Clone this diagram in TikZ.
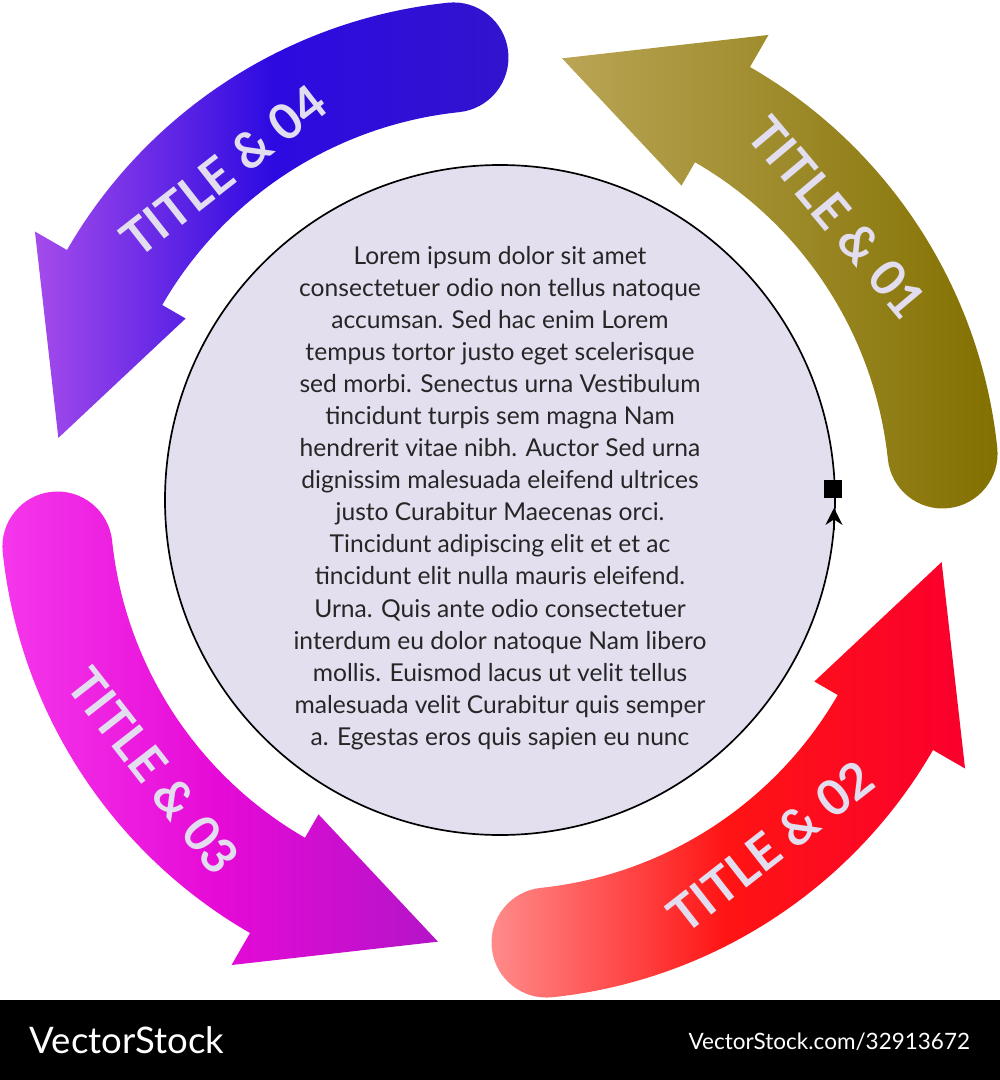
\documentclass[tikz,border=0pt]{standalone}
\usepackage{fontspec}
\setmainfont{Lato}
\usetikzlibrary{arrows.meta}
\definecolor{discfill}{HTML}{E3DFEF}
\definecolor{titletext}{HTML}{E2DEF0}
% one curved band: #1 base angle, #2 shading options
\newcommand{\cycleband}[2]{%
  \path[#2] ({#1+6}:500) arc[start angle={#1+6}, end angle={#1+60}, radius=500]
    -- ({#1+60}:537) -- ({#1+82}:446) -- ({#1+60}:363) -- ({#1+60}:390)
    arc[start angle={#1+60}, end angle={#1+6}, radius=390]
    arc[start angle={#1+186}, end angle={#1+366}, radius=55] -- cycle;}
\begin{document}
\begin{tikzpicture}[x=0.025cm, y=0.025cm,
    bandtitle/.style={font=\fontsize{35}{35}\selectfont\bfseries, text=titletext},
    bodytext/.style={align=center, font=\fontsize{17.5}{22.8}\selectfont, text=black!85},
  ]
  \useasboundingbox (-500,-580) rectangle (500,500);
  % bands
  \cycleband{0}{left color={rgb,255:red,185;green,165;blue,85}, right color={rgb,255:red,130;green,112;blue,0}}
  \cycleband{90}{left color={rgb,255:red,165;green,75;blue,235}, right color={rgb,255:red,50;green,20;blue,205}, middle color={rgb,255:red,45;green,10;blue,225}}
  \cycleband{180}{left color={rgb,255:red,245;green,55;blue,235}, right color={rgb,255:red,180;green,20;blue,200}, middle color={rgb,255:red,230;green,10;blue,215}}
  \cycleband{270}{left color={rgb,255:red,255;green,140;blue,140}, right color={rgb,255:red,250;green,0;blue,45}, middle color={rgb,255:red,255;green,20;blue,20}}
  % titles
  \node[bandtitle, rotate=-50] (t01) at (40:440) {TITLE \& 01};
  \node[bandtitle, rotate=38] (t04) at (130:430) {TITLE \& 04};
  \node[bandtitle, rotate=-52] (t03) at (218:440) {TITLE \& 03};
  \node[bandtitle, rotate=38] (t02) at (308:440) {TITLE \& 02};
  % disc
  \node[circle, draw=black, line width=1.2pt, fill=discfill, minimum size=670*0.025cm, inner sep=0pt] (disc) at (0,0) {};
  \node[bodytext] (body) at (0,2) {Lorem ipsum dolor sit amet\\consectetuer odio non tellus natoque\\accumsan. Sed hac enim Lorem\\tempus tortor justo eget scelerisque\\sed morbi. Senectus urna Vestibulum\\tincidunt turpis sem magna Nam\\hendrerit vitae nibh. Auctor Sed urna\\dignissim malesuada eleifend ultrices\\justo Curabitur Maecenas orci.\\Tincidunt adipiscing elit et et ac\\tincidunt elit nulla mauris eleifend.\\Urna. Quis ante odio consectetuer\\interdum eu dolor natoque Nam libero\\mollis. Euismod lacus ut velit tellus\\malesuada velit Curabitur quis semper\\a. Egestas eros quis sapien eu nunc};
  \node[fill=black, minimum size=18*0.025cm, inner sep=0pt] (mark) at (333,11) {};
  \coordinate (tipfrom) at (334,-30);
  \coordinate (tipto) at (334,-8);
  \draw[-{Stealth[length=12pt, width=12pt]}, line width=1.2pt] (tipfrom) -- (tipto);
  % banner
  \fill[black] (-500,-500) rectangle (500,-580);
  \node[text=white, font=\fontsize{26}{26}\selectfont, anchor=west] (brand) at (-475,-540) {VectorStock};
  \node[text=white, font=\fontsize{16}{16}\selectfont, anchor=east] (ref) at (475,-542) {VectorStock.com/32913672};
\end{tikzpicture}
\end{document}
